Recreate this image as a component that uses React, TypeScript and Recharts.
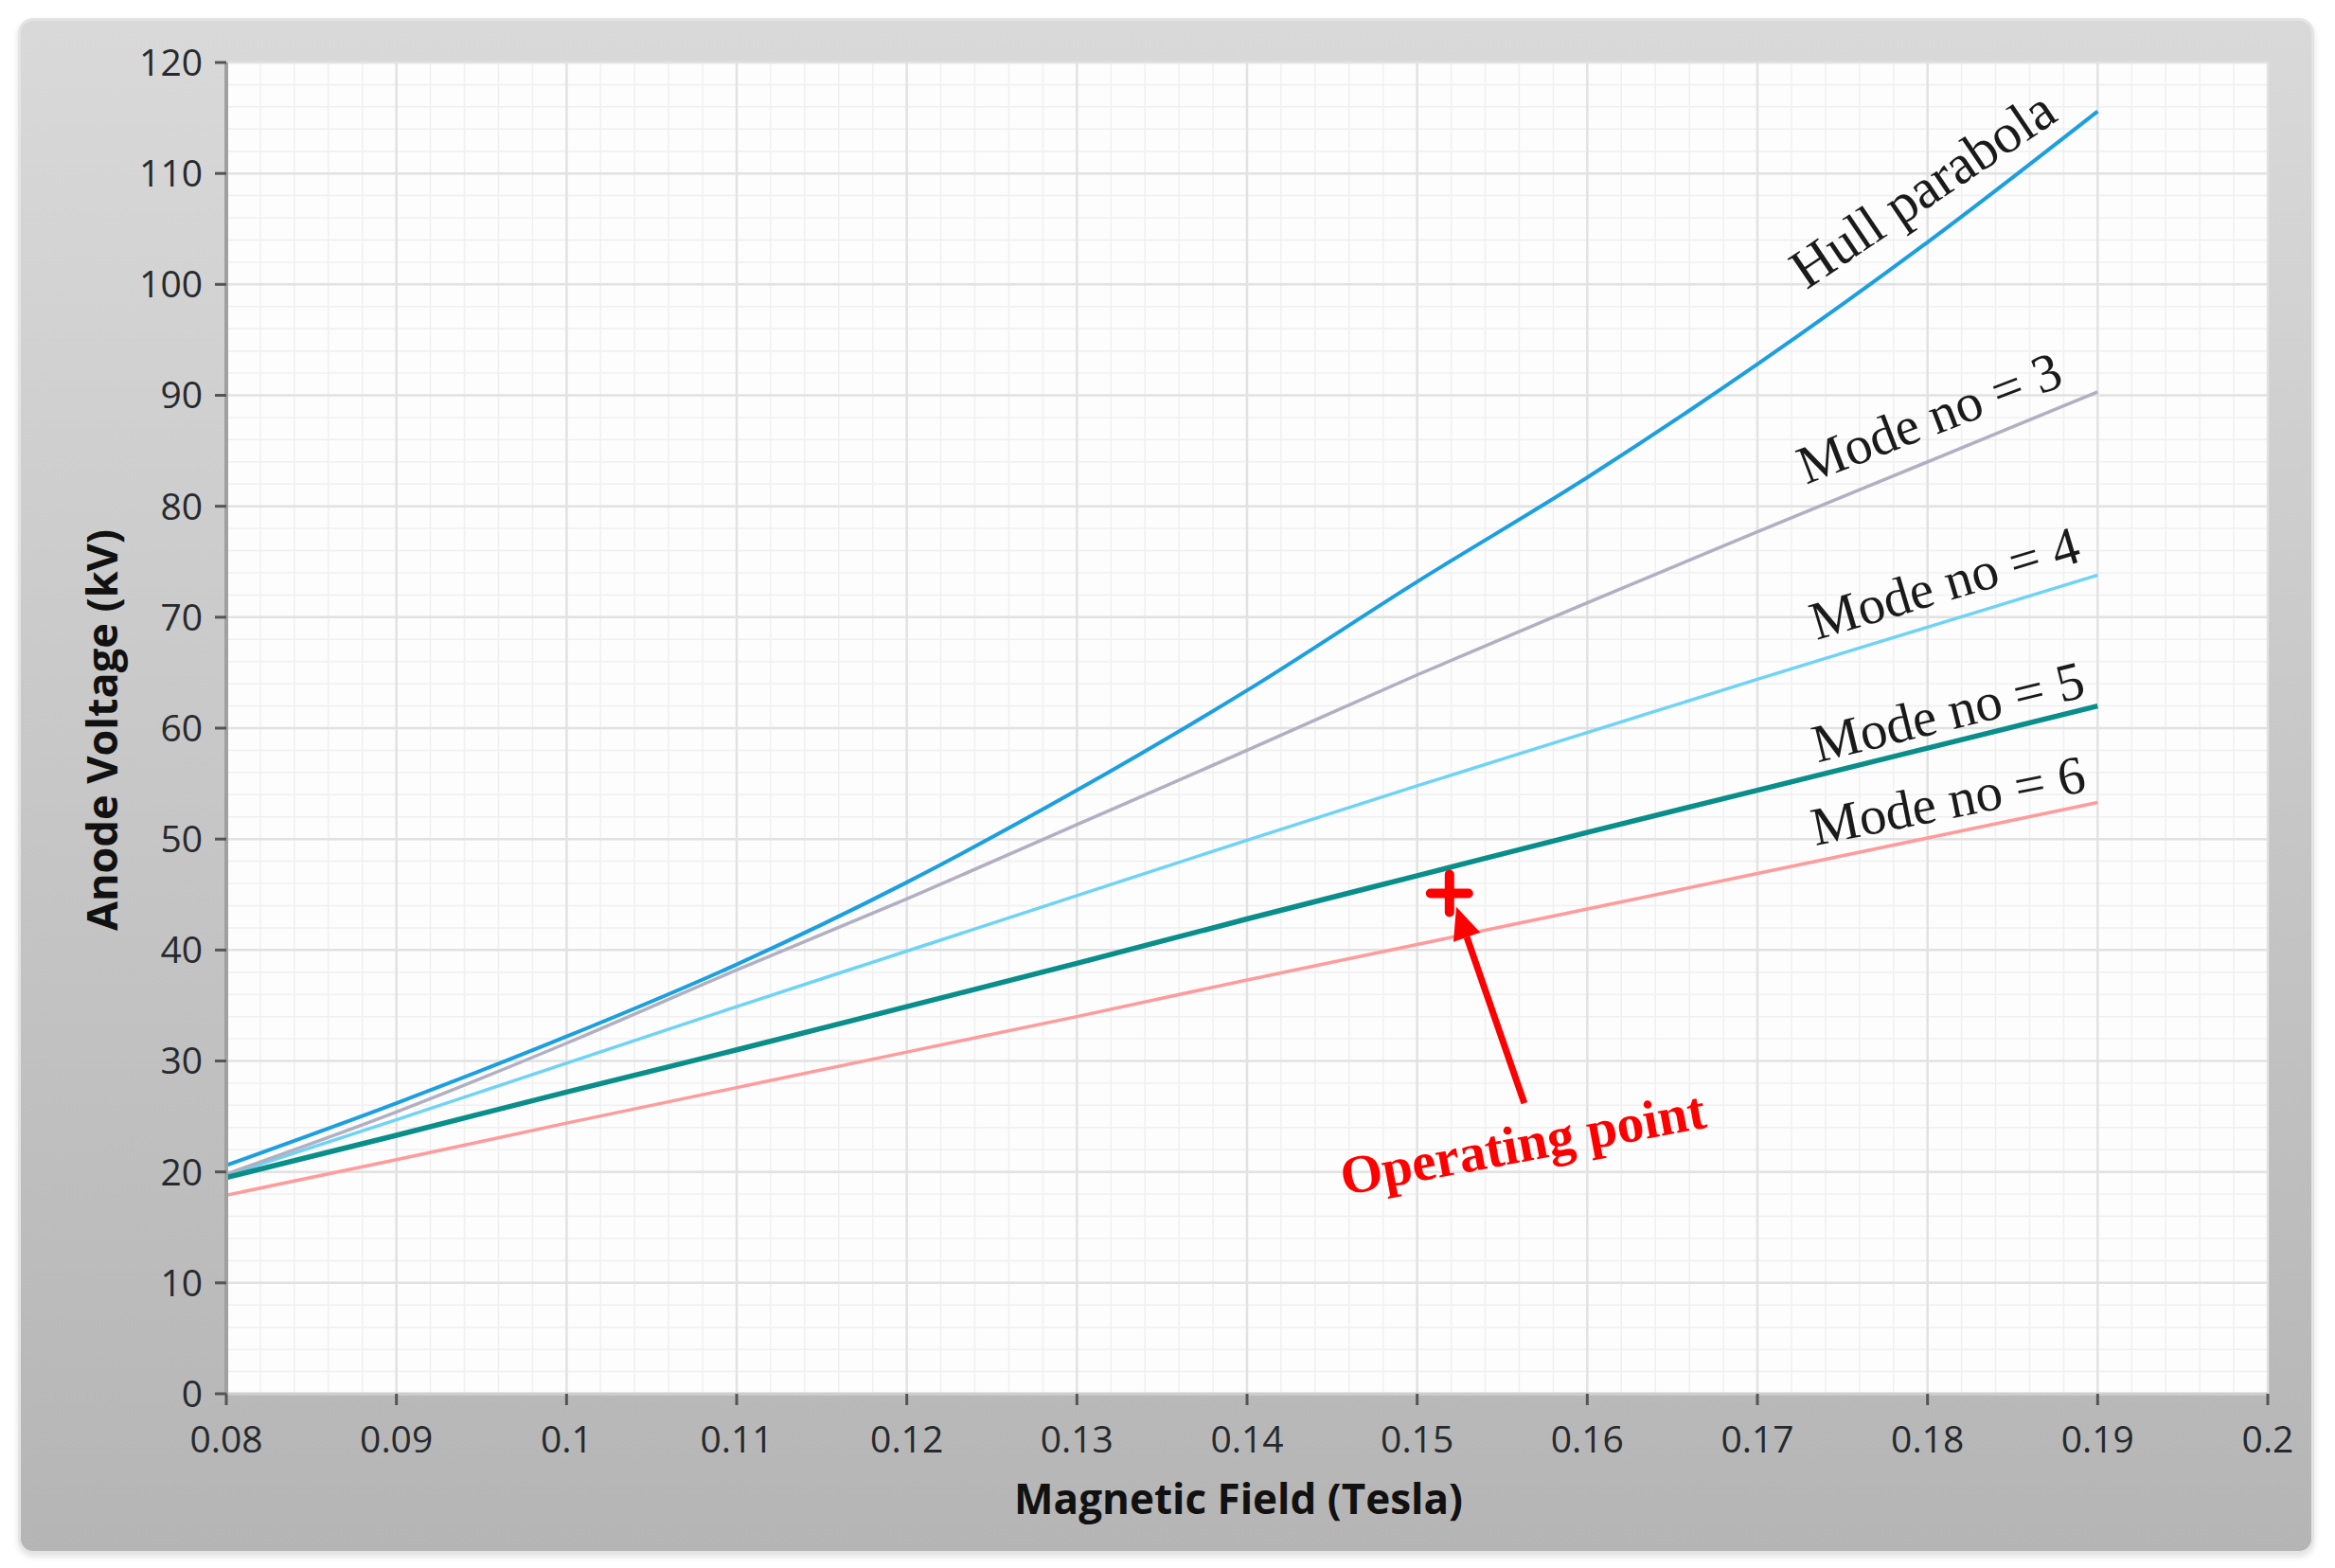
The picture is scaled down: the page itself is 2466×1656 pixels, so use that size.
import { LineChart, Line, XAxis, YAxis, CartesianGrid, ReferenceDot, ReferenceLine, Label } from 'recharts'

// magnetic field (T) and anode voltage (kV)
const field = [0.08, 0.09, 0.1, 0.11, 0.12, 0.13, 0.14, 0.15, 0.16, 0.17, 0.18, 0.19]
const hull = [20.6, 26.2, 32.2, 38.7, 46.1, 54.4, 63.4, 73.2, 82.6, 92.8, 103.8, 115.6]
const mode3 = [19.8, 25.4, 31.6, 38.2, 44.6, 51.3, 58.0, 64.8, 71.3, 77.7, 84.0, 90.3]
const mode4 = [19.7, 24.7, 29.8, 34.9, 39.9, 44.9, 49.9, 54.8, 59.6, 64.4, 69.1, 73.8]
const mode5 = [19.5, 23.3, 27.2, 31.0, 34.9, 38.8, 42.8, 46.7, 50.6, 54.4, 58.2, 62.0]
const mode6 = [17.9, 21.1, 24.4, 27.6, 30.8, 34.0, 37.3, 40.5, 43.7, 46.9, 50.1, 53.3]

const xTicks = [0.08, 0.09, 0.1, 0.11, 0.12, 0.13, 0.14, 0.15, 0.16, 0.17, 0.18, 0.19, 0.2]
const yTicks = [0, 10, 20, 30, 40, 50, 60, 70, 80, 90, 100, 110, 120]

// curve labels: text, position (data coords), rotation
const curveLabels = [
  { text: 'Hull parabola', x: 0.1797, y: 108.6, angle: -34, size: 59 },
  { text: 'Mode no = 3', x: 0.1801, y: 88.0, angle: -21, size: 57 },
  { text: 'Mode no = 4', x: 0.1810, y: 73.1, angle: -16.6, size: 57 },
  { text: 'Mode no = 5', x: 0.1812, y: 61.5, angle: -13.9, size: 57 },
  { text: 'Mode no = 6', x: 0.1812, y: 53.5, angle: -11.3, size: 57 },
]

const operatingPoint = { x: 0.1519, y: 45.1 }
const arrowTail = { x: 0.1563, y: 26.2 }
const arrowTip = { x: 0.1523, y: 43.9 }
const opLabel = { text: 'Operating point', x: 0.1562, y: 22.6, angle: -10.6 }

const rows = field.map((b, i) => ({
  b,
  hull: hull[i],
  mode3: mode3[i],
  mode4: mode4[i],
  mode5: mode5[i],
  mode6: mode6[i],
}))

// minor grid every fifth of a major division
const minorX: number[] = []
for (let i = 0; i <= 60; i++) if (i % 5) minorX.push(0.08 + i * 0.002)
const minorY: number[] = []
for (let i = 0; i <= 60; i++) if (i % 5) minorY.push(i * 2)

const tickStyle = { fill: '#262a2e', fontSize: 39, fontFamily: 'Open Sans' }
const serif = 'Liberation Serif'

const fmtX = (v: number) => String(Number(v.toFixed(2)))

const RotText = ({ cx, cy, text, angle, fill = '#1a1a1a', bold = false, size = 55 }: any) => (
  <text
    x={cx}
    y={cy}
    transform={`rotate(${angle} ${cx} ${cy})`}
    textAnchor="middle"
    dominantBaseline="central"
    fontFamily={serif}
    fontSize={size}
    fontWeight={bold ? 700 : 400}
    fill={fill}
  >
    {text}
  </text>
)

const Plus = ({ cx, cy }: any) => (
  <g stroke="#ff0000" strokeWidth={10} strokeLinecap="round">
    <line x1={cx - 20} y1={cy} x2={cx + 20} y2={cy} />
    <line x1={cx} y1={cy - 20} x2={cx} y2={cy + 20} />
  </g>
)

const Arrow = ({ x1, y1, x2, y2 }: any) => {
  const a = Math.atan2(y2 - y1, x2 - x1)
  const len = 34
  const hw = 15
  const bx = x2 - len * Math.cos(a)
  const by = y2 - len * Math.sin(a)
  const px = -Math.sin(a) * hw
  const py = Math.cos(a) * hw
  return (
    <g>
      <line x1={x1} y1={y1} x2={bx} y2={by} stroke="#ff0000" strokeWidth={7} />
      <polygon points={`${x2},${y2} ${bx + px},${by + py} ${bx - px},${by - py}`} fill="#ff0000" />
    </g>
  )
}

export default function App() {
  return (
    <div style={{ position: 'absolute', left: 0, top: 0, width: 2466, height: 1656, background: '#fff' }}>
      <div
        style={{
          position: 'absolute',
          left: 19,
          top: 19,
          width: 2419,
          height: 1616,
          borderRadius: 16,
          border: '3px solid #e4e4e4',
          background: 'linear-gradient(#d9d9d9, #b5b5b5)',
          boxShadow: '0 3px 6px rgba(0,0,0,0.12)',
        }}
      />
      <div style={{ position: 'absolute', left: 0, top: 0 }}>
        <LineChart width={2466} height={1656} data={rows} margin={{ top: 66, right: 71, left: 0, bottom: 0 }}>
          <CartesianGrid
            fill="#fdfdfd"
            stroke="#f0f0f0"
            strokeWidth={1.5}
            verticalValues={minorX}
            horizontalValues={minorY}
          />
          <CartesianGrid stroke="#e2e2e2" strokeWidth={2.5} />
          <XAxis
            dataKey="b"
            type="number"
            domain={[0.08, 0.2]}
            ticks={xTicks}
            tickFormatter={fmtX}
            tick={tickStyle}
            tickSize={12}
            tickMargin={22}
            tickLine={{ stroke: '#555', strokeWidth: 3 }}
            axisLine={{ stroke: '#cfcfcf', strokeWidth: 3 }}
            height={184}
            allowDataOverflow
          >
            <Label
              content={() => (
                <text x={1308} y={1582} textAnchor="middle" dominantBaseline="central" fontFamily="Open Sans" fontWeight={700} fontSize={44} fill="#111">
                  Magnetic Field (Tesla)
                </text>
              )}
            />
          </XAxis>
          <XAxis xAxisId="top" orientation="top" type="number" domain={[0.08, 0.2]} height={0} tick={false} tickLine={false} axisLine={{ stroke: '#a3a3a3', strokeWidth: 5 }} />
          <YAxis
            type="number"
            domain={[0, 120]}
            ticks={yTicks}
            tick={tickStyle}
            tickSize={12}
            tickMargin={13}
            tickLine={{ stroke: '#555', strokeWidth: 3 }}
            axisLine={{ stroke: '#a0a0a0', strokeWidth: 4 }}
            width={239}
          >
            <Label
              content={() => (
                <text x={106} y={771} transform="rotate(-90 106 771)" textAnchor="middle" dominantBaseline="central" fontFamily="Open Sans" fontWeight={700} fontSize={45} fill="#111">
                  Anode Voltage (kV)
                </text>
              )}
            />
          </YAxis>
          <YAxis yAxisId="right" orientation="right" type="number" domain={[0, 120]} width={0} tick={false} tickLine={false} axisLine={{ stroke: '#d6d6d6', strokeWidth: 4 }} />

          <Line dataKey="mode6" type="monotone" stroke="#ff9b9b" strokeWidth={3.5} dot={false} isAnimationActive={false} />
          <Line dataKey="mode4" type="monotone" stroke="#6fd3f6" strokeWidth={3.5} dot={false} isAnimationActive={false} />
          <Line dataKey="mode3" type="monotone" stroke="#b1afc2" strokeWidth={3.5} dot={false} isAnimationActive={false} />
          <Line dataKey="hull" type="monotone" stroke="#1c9fe0" strokeWidth={4} dot={false} isAnimationActive={false} />
          <Line dataKey="mode5" type="monotone" stroke="#0a8e8a" strokeWidth={5.5} dot={false} isAnimationActive={false} />

          {curveLabels.map((l) => (
            <ReferenceDot
              key={l.text}
              x={l.x}
              y={l.y}
              r={1}
              shape={(p: any) => <RotText cx={p.cx} cy={p.cy} text={l.text} angle={l.angle} size={l.size} />}
            />
          ))}
          <ReferenceLine
            segment={[arrowTail, arrowTip]}
            shape={(p: any) => <Arrow {...p} />}
          />
          <ReferenceDot x={operatingPoint.x} y={operatingPoint.y} r={1} shape={(p: any) => <Plus cx={p.cx} cy={p.cy} />} />
          <ReferenceDot
            x={opLabel.x}
            y={opLabel.y}
            r={1}
            shape={(p: any) => <RotText cx={p.cx} cy={p.cy} text={opLabel.text} angle={opLabel.angle} fill="#ff0000" bold size={57} />}
          />
        </LineChart>
      </div>
    </div>
  )
}
